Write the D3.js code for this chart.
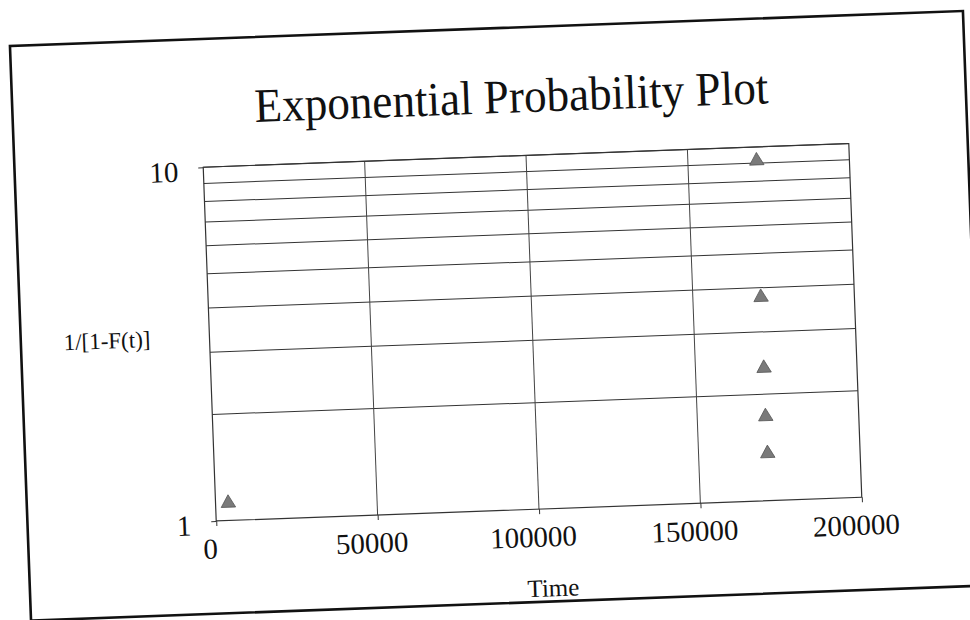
<!DOCTYPE html>
<html lang="en">
<head>
  <meta charset="UTF-8">
  <title>Exponential Probability Plot</title>
  <script src="https://d3js.org/d3.v7.min.js"></script>
  <style>
    body { margin: 0; background: #fff; }
    svg { display: block; }
    text { font-family: "Liberation Serif", "Times New Roman", serif; fill: #111; }
    .tick line { stroke: #333; }
  </style>
</head>
<body>
  <svg width="970" height="620"></svg>
  <script>
    // data
    const times = [3940, 171380, 171180, 171200, 171080, 171300];
    const recip = [1.12, 1.36, 1.73, 2.37, 3.76, 9.14];
    const xTicks = [0, 50000, 100000, 150000, 200000];
    const xGrid = [50000, 100000, 150000];
    const yTicks = [1, 10];
    const yGrid = [2, 3, 4, 5, 6, 7, 8, 9, 10];

    const svg = d3.select("svg");
    // the scanned page sits slightly tilted
    const page = svg.append("g").attr("transform", "rotate(-2.1, 532.5, 332.25)");

    const plotLeft = 209.5, plotTop = 155.25, plotW = 646, plotH = 354;
    const x = d3.scaleLinear().domain([0, 200000]).range([plotLeft, plotLeft + plotW]);
    const y = d3.scaleLog().domain([1, 10]).range([plotTop + plotH, plotTop]);

    // outer chart frame
    page.append("rect")
      .attr("x", 20.8).attr("y", 27)
      .attr("width", 953.6).attr("height", 575)
      .attr("fill", "none")
      .attr("stroke", "#111")
      .attr("stroke-width", 2.6);

    page.append("text")
      .attr("x", 520).attr("y", 112)
      .attr("text-anchor", "middle")
      .attr("font-size", "48px")
      .attr("textLength", 514)
      .attr("lengthAdjust", "spacingAndGlyphs")
      .text("Exponential Probability Plot");

    // gridlines
    page.append("g").selectAll("line")
      .data(yGrid)
      .join("line")
      .attr("x1", plotLeft).attr("x2", plotLeft + plotW)
      .attr("y1", d => y(d)).attr("y2", d => y(d))
      .attr("stroke", "#333").attr("stroke-width", 1);

    page.append("g").selectAll("line")
      .data(xGrid)
      .join("line")
      .attr("x1", d => x(d)).attr("x2", d => x(d))
      .attr("y1", plotTop).attr("y2", plotTop + plotH)
      .attr("stroke", "#444").attr("stroke-width", 1);

    page.append("rect")
      .attr("x", plotLeft).attr("y", plotTop)
      .attr("width", plotW).attr("height", plotH)
      .attr("fill", "none")
      .attr("stroke", "#333").attr("stroke-width", 1.2);

    // axes
    const xAxis = page.append("g")
      .attr("transform", `translate(0,${plotTop + plotH})`)
      .call(d3.axisBottom(x).tickValues(xTicks).tickSize(5).tickPadding(12).tickFormat(d3.format("d")));
    xAxis.select(".domain").remove();
    xAxis.selectAll("text")
      .attr("font-size", "29px")
      .attr("font-family", "Liberation Serif, Times New Roman, serif")
      .attr("dx", -7);

    const yAxis = page.append("g")
      .attr("transform", `translate(${plotLeft},0)`)
      .call(d3.axisLeft(y).tickValues(yTicks).tickSize(5).tickPadding(20).tickFormat(d => d));
    yAxis.select(".domain").remove();
    yAxis.selectAll("text")
      .attr("font-size", "29px")
      .attr("font-family", "Liberation Serif, Times New Roman, serif")
      .attr("dy", "0.45em");

    // axis titles
    page.append("text")
      .attr("x", 107).attr("y", 333)
      .attr("text-anchor", "middle")
      .attr("font-size", "23px")
      .text("1/[1-F(t)]");

    page.append("text")
      .attr("x", 544).attr("y", 597)
      .attr("text-anchor", "middle")
      .attr("font-size", "25px")
      .text("Time");

    // points
    const tri = d3.symbol(d3.symbolTriangle).size(90);
    page.append("g").selectAll("path")
      .data(times.map((t, i) => [t, recip[i]]))
      .join("path")
      .attr("d", tri)
      .attr("transform", d => `translate(${x(d[0])},${y(d[1])})`)
      .attr("fill", "#7a7a7a")
      .attr("stroke", "#555")
      .attr("stroke-width", 0.8);
  </script>
</body>
</html>
